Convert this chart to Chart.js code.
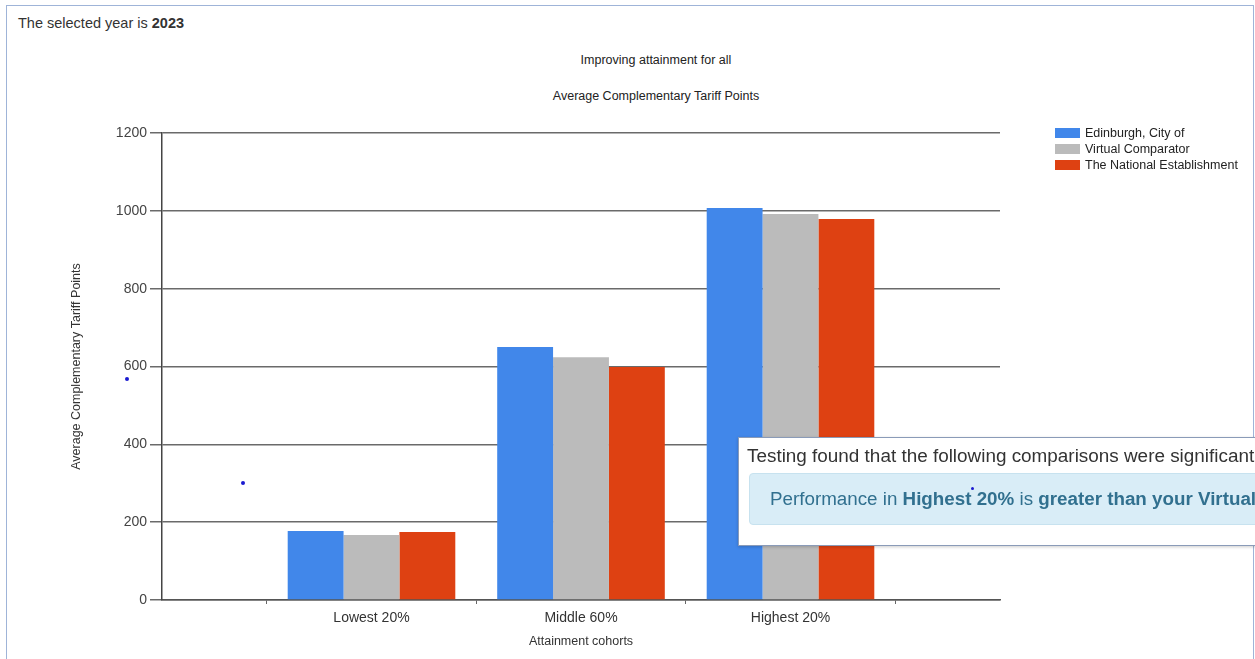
<!DOCTYPE html>
<html>
<head>
<meta charset="utf-8">
<script src="https://cdn.jsdelivr.net/npm/chart.js@4.4.1/dist/chart.umd.min.js"></script>
<style>
    html, body {
        margin: 0;
        padding: 0;
        width: 1255px;
        height: 659px;
        overflow: hidden;
        background: #fff;
        font-family: "Liberation Sans", Arial, sans-serif;
    }
    #frame {
        position: absolute;
        left: 6px;
        top: 5px;
        width: 1246px;
        height: 700px;
        border: 1.5px solid #9fb4d8;
    }
    #year {
        position: absolute;
        left: 18px;
        top: 15px;
        font-size: 14.5px;
        color: #333;
    }
    .title {
        position: absolute;
        left: 406px;
        width: 500px;
        text-align: center;
        font-size: 12.5px;
        color: #222;
    }
    #chartWrap {
        position: absolute;
        left: 0;
        top: 0;
        width: 1255px;
        height: 659px;
    }
    #legend {
        position: absolute;
        left: 1055px;
        top: 126px;
        font-size: 12.5px;
        color: #222;
    }
    #legend div {
        height: 16px;
        line-height: 15px;
        white-space: nowrap;
    }
    #legend span.box {
        display: inline-block;
        width: 25px;
        height: 10px;
        margin-right: 5px;
        vertical-align: -1px;
    }
    .dot {
        position: absolute;
        width: 4px;
        height: 4px;
        border-radius: 2px;
        background: #1a1ad0;
    }
    #popup {
        position: absolute;
        left: 738px;
        top: 437px;
        width: 600px;
        height: 107px;
        background: #fff;
        border: 1px solid #8a9bb8;
        box-shadow: 0 1px 3px rgba(0,0,0,0.2);
    }
    #popup .head {
        position: absolute;
        left: 8px;
        top: 7px;
        font-size: 18.9px;
        color: #333;
        white-space: nowrap;
    }
    #popup .alert {
        position: absolute;
        left: 10px;
        top: 35px;
        width: 620px;
        height: 50px;
        background: #d9edf7;
        border: 1px solid #c7e2ef;
        border-radius: 4px;
        color: #31708f;
        font-size: 18.8px;
        line-height: 50px;
        padding-left: 20px;
        white-space: nowrap;
    }
</style>
</head>
<body>
<div id="frame"></div>
<div id="year">The selected year is <b>2023</b></div>
<div class="title" style="top:53px;">Improving attainment for all</div>
<div class="title" style="top:89px;">Average Complementary Tariff Points</div>
<div id="chartWrap"><canvas id="attainmentChart" width="1255" height="659"></canvas></div>
<div id="legend"></div>
<div class="dot" style="left:125px; top:377px;"></div>
<div class="dot" style="left:241px; top:481px;"></div>
<div id="popup">
    <div class="head">Testing found that the following comparisons were significant</div>
    <div class="alert">Performance in <b>Highest 20%</b> is <b>greater than your Virtual Comparator</b></div>
</div>
<div class="dot" style="left:971px; top:487px; width:3px; height:3px;"></div>

<script>
// chart values
const categories = ['Lowest 20%', 'Middle 60%', 'Highest 20%'];
const edinburgh = [177, 650, 1007];
const virtualComparator = [167, 624, 992];
const nationalEstablishment = [175, 599, 979];
const yTicks = [0, 200, 400, 600, 800, 1000, 1200];

const seriesNames = ['Edinburgh, City of', 'Virtual Comparator', 'The National Establishment'];
const seriesColours = ['#4187EA', '#BBBBBB', '#DE4112'];

// empty half-slots on both ends of the axis, like the original
const labels = [''].concat(categories, ['']);
function pad(values) {
    return [null].concat(values, [null]);
}

const allSeries = [edinburgh, virtualComparator, nationalEstablishment];
const datasets = allSeries.map(function (values, i) {
    return {
        label: seriesNames[i],
        data: pad(values),
        backgroundColor: seriesColours[i],
        borderWidth: 0,
        categoryPercentage: 0.8,
        barPercentage: 1,
    };
});

const config = {
    type: 'bar',
    data: { labels: labels, datasets: datasets },
    options: {
        responsive: false,
        animation: false,
        layout: {
            padding: { left: 65, top: 133, right: 255, bottom: 6 },
        },
        plugins: {
            legend: { display: false },
            tooltip: { enabled: false },
        },
        scales: {
            x: {
                offset: false,
                grid: {
                    display: true,
                    offset: true,
                    drawOnChartArea: false,
                    drawTicks: true,
                    tickLength: 4,
                    color: '#666',
                },
                border: { display: true, color: '#555', width: 1.5 },
                ticks: {
                    padding: 6,
                    color: '#333',
                    font: { family: 'Liberation Sans', size: 14 },
                },
                title: {
                    display: true,
                    text: 'Attainment cohorts',
                    color: '#333',
                    font: { family: 'Liberation Sans', size: 12.5 },
                },
                afterFit: function (scale) { scale.height = 53; },
            },
            y: {
                min: 0,
                max: 1200,
                afterBuildTicks: function (scale) {
                    scale.ticks = yTicks.map(function (v) { return { value: v }; });
                },
                grid: {
                    color: '#6a6a6a',
                    lineWidth: 1.5,
                    drawTicks: true,
                    tickLength: 12,
                },
                border: { display: true, color: '#444', width: 1.5 },
                ticks: {
                    padding: 3,
                    color: '#444',
                    font: { family: 'Liberation Sans', size: 14 },
                    callback: function (value) { return String(value); },
                },
                title: {
                    display: true,
                    text: 'Average Complementary Tariff Points',
                    color: '#333',
                    font: { family: 'Liberation Sans', size: 12.5 },
                },
                afterFit: function (scale) { scale.width = 97; },
            },
        },
    },
};

const ctx = document.getElementById('attainmentChart').getContext('2d');
const attainmentChart = new Chart(ctx, config);

// legend built from the same series
const legendEl = document.getElementById('legend');
seriesNames.forEach(function (name, i) {
    const row = document.createElement('div');
    const box = document.createElement('span');
    box.className = 'box';
    box.style.background = seriesColours[i];
    row.appendChild(box);
    row.appendChild(document.createTextNode(name));
    legendEl.appendChild(row);
});
</script>
</body>
</html>
